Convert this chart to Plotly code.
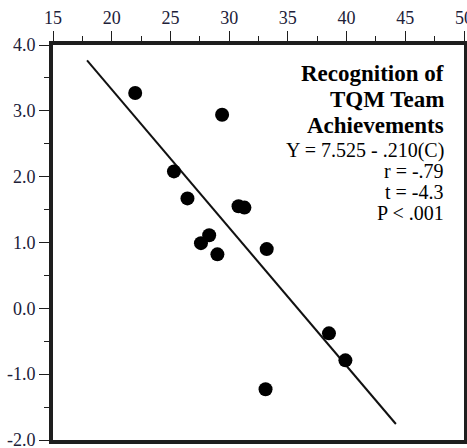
import plotly.graph_objects as go

# Data
c_scores = [22.0, 29.4, 25.3, 26.45, 30.8, 31.3, 28.3, 27.6, 29.0, 33.2, 38.5, 39.9, 33.1]
recognition = [3.27, 2.94, 2.08, 1.67, 1.55, 1.53, 1.11, 0.99, 0.82, 0.90, -0.38, -0.79, -1.23]

fit_x = [17.9, 44.2]
fit_y = [3.766, -1.757]

x_ticks = [15, 20, 25, 30, 35, 40, 45, 50]
y_ticks = [-2.0, -1.0, 0.0, 1.0, 2.0, 3.0, 4.0]
y_tick_text = ["-2.0", "-1.0", "0.0", "1.0", "2.0", "3.0", "4.0"]

title_lines = ["Recognition of", "TQM Team", "Achievements"]
stat_lines = ["Y = 7.525 - .210(C)", "r = -.79", "t = -4.3", "P < .001"]

FONT = "Liberation Serif, Times New Roman, serif"
INK = "#1e1e1e"

fig = go.Figure()
fig.add_trace(go.Scatter(x=fit_x, y=fit_y, mode="lines",
                         line=dict(color="#111", width=2), showlegend=False,
                         hoverinfo="skip"))
fig.add_trace(go.Scatter(x=c_scores, y=recognition, mode="markers",
                         marker=dict(color="#000", size=14), showlegend=False))

axis_common = dict(showgrid=False, zeroline=False, showline=True, linecolor=INK,
                   linewidth=4, mirror=True, ticks="outside", ticklen=10,
                   tickwidth=1.2, tickcolor=INK, ticklabeloverflow="allow",
                   automargin=False,
                   tickfont=dict(family=FONT, size=18, color="#202038"))

fig.update_xaxes(range=[15, 50], side="top", tickvals=x_ticks,
                 minor=dict(dtick=2.5, tick0=15, ticks="outside", ticklen=5,
                            tickwidth=1.2, tickcolor=INK, showgrid=False),
                 **axis_common)
fig.update_yaxes(range=[-2, 4], tickvals=y_ticks, ticktext=y_tick_text,
                 minor=dict(dtick=0.5, tick0=-2, ticks="outside", ticklen=5,
                            tickwidth=1.2, tickcolor=INK, showgrid=False),
                 **axis_common)

title_y = [0.929, 0.861, 0.795]
stat_y = [0.734, 0.681, 0.628, 0.575]
for txt, yy in zip(title_lines, title_y):
    fig.add_annotation(x=0.957, y=yy, xref="paper", yref="paper", text=f"<b>{txt}</b>",
                       showarrow=False, xanchor="right", yanchor="middle",
                       font=dict(family=FONT, size=23, color="#000"))
for txt, yy in zip(stat_lines, stat_y):
    fig.add_annotation(x=0.957, y=yy, xref="paper", yref="paper", text=txt,
                       showarrow=False, xanchor="right", yanchor="middle",
                       font=dict(family=FONT, size=20, color="#000"))

fig.update_layout(width=467, height=448, margin=dict(l=53, r=3, t=45, b=8),
                  plot_bgcolor="white", paper_bgcolor="white")

fig.write_html("out.html")
